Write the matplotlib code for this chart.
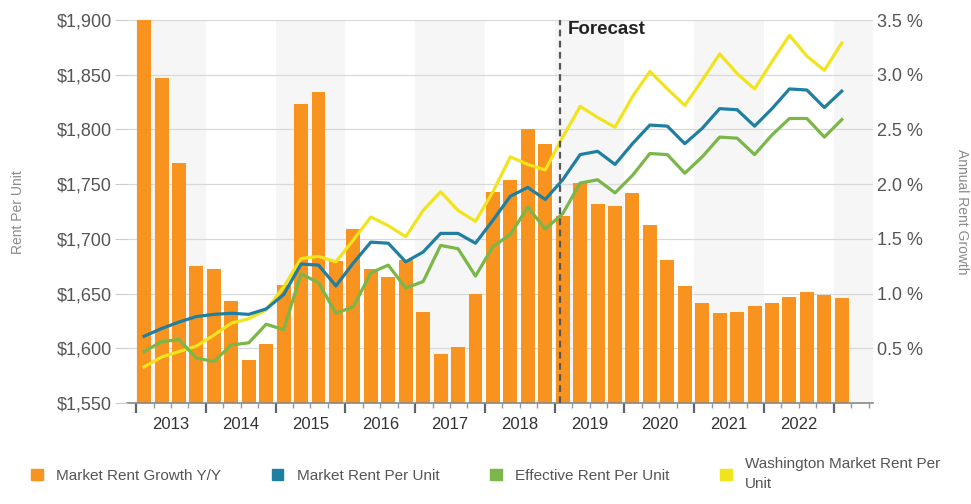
import numpy as np
import matplotlib
matplotlib.use("Agg")
import matplotlib.pyplot as plt
from matplotlib.patches import Patch

plt.rcParams['font.family'] = ['Liberation Sans', 'DejaVu Sans']

# %% data, quarterly 2013 Q1 .. 2023 Q1
years = [2013, 2014, 2015, 2016, 2017, 2018, 2019, 2020, 2021, 2022]
growth_pct = [3.50, 2.97, 2.19, 1.25, 1.22, 0.93, 0.39, 0.54, 1.08, 2.73,
              2.84, 1.30, 1.59, 1.22, 1.15, 1.31, 0.83, 0.45, 0.51, 1.00,
              1.93, 2.04, 2.50, 2.37, 1.71, 2.01, 1.82, 1.80, 1.92, 1.63,
              1.31, 1.07, 0.91, 0.82, 0.83, 0.89, 0.91, 0.97, 1.01, 0.99,
              0.96]
market_rent = [1611, 1618, 1624, 1629, 1631, 1632, 1631, 1636, 1649, 1677,
               1676, 1657, 1678, 1697, 1696, 1679, 1688, 1705, 1705, 1696,
               1717, 1739, 1747, 1736, 1754, 1777, 1780, 1768, 1787, 1804,
               1803, 1787, 1801, 1819, 1818, 1803, 1819, 1837, 1836, 1820,
               1835]
effective_rent = [1597, 1606, 1608, 1591, 1588, 1603, 1605, 1622, 1617, 1668,
                  1660, 1632, 1638, 1669, 1676, 1655, 1661, 1694, 1691, 1666,
                  1693, 1704, 1729, 1709, 1723, 1751, 1754, 1742, 1758, 1778,
                  1777, 1760, 1775, 1793, 1792, 1777, 1795, 1810, 1810, 1793,
                  1809]
washington_rent = [1583, 1592, 1597, 1602, 1612, 1623, 1627, 1635, 1656, 1682,
                   1684, 1679, 1699, 1720, 1712, 1702, 1726, 1743, 1726, 1716,
                   1743, 1775, 1768, 1763, 1793, 1821, 1811, 1802, 1830, 1853,
                   1837, 1822, 1845, 1869, 1851, 1837, 1862, 1886, 1867, 1854,
                   1879]
forecast_start = 24.3

# %% colours
c_orange = '#F7931E'
c_blue = '#1F7FA3'
c_green = '#7AB648'
c_yellow = '#F2E41C'

q = np.arange(len(growth_pct))
xc = q + 0.46

fig = plt.figure(figsize=(9.71, 5.04), dpi=100)
ax = fig.add_axes([127/971, 1 - 403/504, (873-127)/971, (403-20)/504])

# alternating year bands
for y0 in range(0, 44, 8):
    ax.axvspan(y0, y0 + 4, color='#f6f6f6', zorder=0, lw=0)

ax.bar(xc, growth_pct, width=0.8, color=c_orange, zorder=2)
ax.set_ylim(0, 3.5)
ax.set_xlim(-0.52, 42.25)
ax.grid(axis='y', color='#d9d9d9', lw=0.9, zorder=1)
ax.set_axisbelow(True)
for s in ['top', 'left', 'right']:
    ax.spines[s].set_visible(False)
ax.spines['bottom'].set_color('#888888')
ax.spines['bottom'].set_linewidth(1.2)

ax.set_xticks(np.arange(0, 41, 4))
ax.set_xticklabels([])
ax.set_xticks(np.arange(0, 43, 1), minor=True)
ax.tick_params(axis='x', which='major', length=7, width=1.6, color='#5a6570')
ax.tick_params(axis='x', which='minor', length=3.5, width=1, color='#8a9aa8')
for k, yr in enumerate(years):
    ax.text(4 * k + 2, -0.055, str(yr), transform=ax.get_xaxis_transform(),
            ha='center', va='center', fontsize=12, color='#333333')

# rent lines on the twin axis
ax2 = ax.twinx()
ax2.set_ylim(1550, 1900)
ax2.set_yticks(np.arange(1550, 1901, 50))
ax2.set_yticklabels([f'${v:,}' for v in range(1550, 1901, 50)])
ax2.yaxis.tick_left()
ax2.tick_params(axis='y', length=9, color='#cccccc', labelsize=13, labelcolor='#555555', pad=2)
for s in ax2.spines.values():
    s.set_visible(False)

# percent ticks go on the right (after twinx, which resets them)
ax.yaxis.tick_right()
ax.set_yticks(np.arange(0.5, 3.51, 0.5))
ax.set_yticklabels([f'{v:.1f} %' for v in np.arange(0.5, 3.51, 0.5)])
ax.tick_params(axis='y', length=0, pad=3, labelsize=13, labelcolor='#555555')

ax2.plot(xc, washington_rent, color=c_yellow, lw=2.3, zorder=3)
ax2.plot(xc, effective_rent, color=c_green, lw=2.3, zorder=4)
ax2.plot(xc, market_rent, color=c_blue, lw=2.3, zorder=5)

ax2.axvline(forecast_start, color='#555555', lw=1.6, ls=(0, (3, 2)), zorder=6)
ax2.text(forecast_start + 0.45, 0.974, 'Forecast', transform=ax2.get_xaxis_transform(),
         fontsize=13.5, fontweight='bold', color='#222222', va='center', ha='left')

fig.text(18/971, 1 - 212/504, 'Rent Per Unit', rotation=90, ha='center', va='center',
         fontsize=10, color='#8a8a8a')
fig.text(962/971, 1 - 212/504, 'Annual Rent Growth', rotation=270, ha='center', va='center',
         fontsize=10, color='#8a8a8a')

handles = [Patch(color=c_orange), Patch(color=c_blue), Patch(color=c_green), Patch(color=c_yellow)]
labels = ['Market Rent Growth Y/Y', 'Market Rent Per Unit', 'Effective Rent Per Unit',
          'Washington Market Rent Per\nUnit']
leg = fig.legend(handles, labels, loc='center left', bbox_to_anchor=(0.018, 1 - 474/504),
                 ncol=4, frameon=False, fontsize=11, handlelength=0.75, handleheight=0.75,
                 handletextpad=0.9, columnspacing=3.3, labelcolor='#555555')
for t in leg.get_texts():
    t.set_linespacing(1.5)

fig.savefig('out.png', dpi=100)
